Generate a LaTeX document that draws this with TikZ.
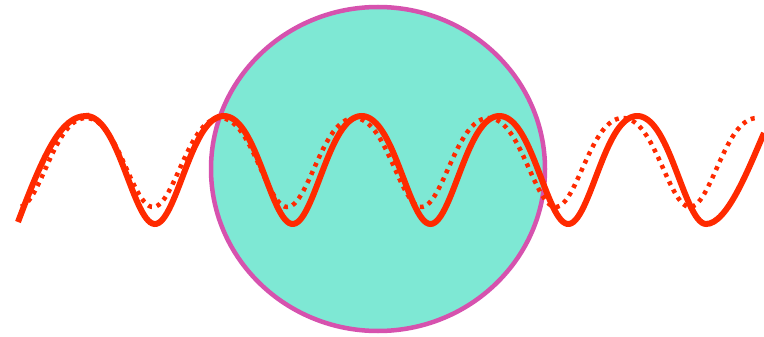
\documentclass[tikz,border=0pt]{standalone}
\begin{document}
\begin{tikzpicture}[x=1pt,y=-1pt]
\definecolor{wavered}{HTML}{FF2A00}
\definecolor{discfill}{HTML}{7EE8D4}
\definecolor{discedge}{HTML}{D652AE}
\tikzset{
  solidwave/.style={draw=wavered, line width=6pt},
  dotwave/.style={draw=wavered, line width=4.5pt, dash pattern=on 4pt off 5pt},
  disc/.style={draw=discedge, fill=discfill, line width=4.5pt}
}
\useasboundingbox (0,0) rectangle (764,337);
\fill[white] (0,0) rectangle (764,337);
\path[disc] (378,169) ellipse [x radius=167, y radius=162];
\draw[dotwave] plot[domain=21:757, samples=300]
  (\x, {158.05 - 44.5*(cos((\x-86)*2.6826) - 0.1*cos((\x-86)*5.3652))});
\draw[solidwave] (18,222) .. controls (45,150) and (62,116) .. (86,116)
  -- plot[domain=86:706.1, samples=300]
  (\x, {164.6 - 54*(cos((\x-86)*2.6125) - 0.1*cos((\x-86)*5.225))})
  .. controls (727,224) and (748,170) .. (764,133);
\end{tikzpicture}
\end{document}
